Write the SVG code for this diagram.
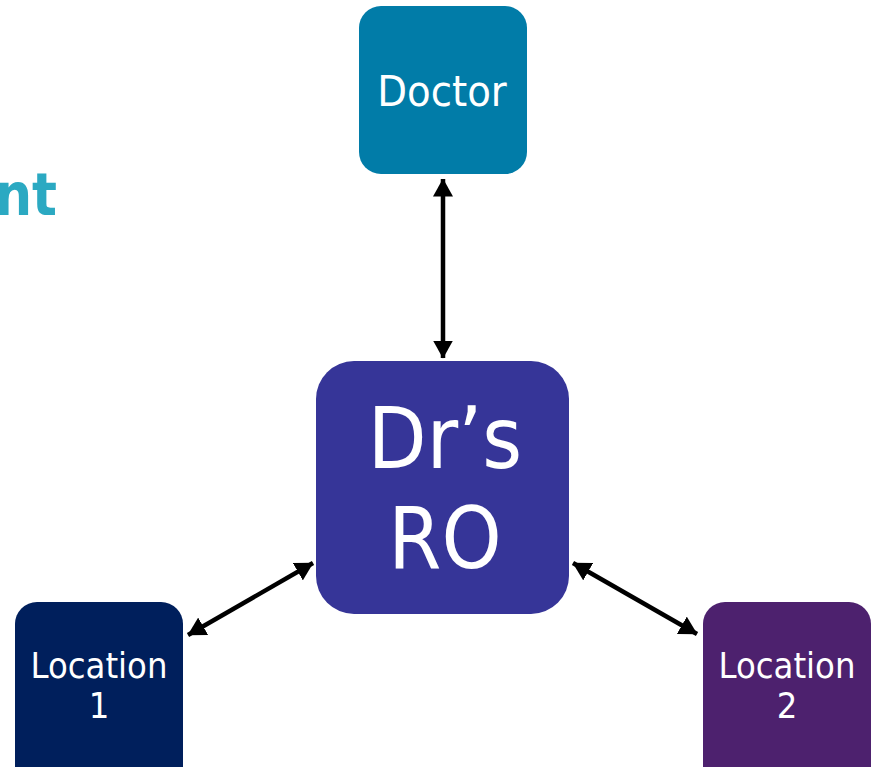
<svg xmlns="http://www.w3.org/2000/svg" width="876" height="767" viewBox="0 0 876 767">
<style>
.lbl{font-family:"DejaVu Sans Condensed","DejaVu Sans","Liberation Sans",sans-serif;fill:#fff;text-anchor:middle}
.conn{stroke:#000;stroke-width:4.5;fill:none}
</style>
<defs>
<marker id="ah" viewBox="0 0 18 20" refX="17.5" refY="10" markerWidth="18" markerHeight="20" markerUnits="userSpaceOnUse" orient="auto-start-reverse">
<path d="M0,0 L18,10 L0,20 Z" fill="#000"/>
</marker>
</defs>
<rect width="876" height="767" fill="#fff"/>
<text x="57" y="215" font-family="'DejaVu Sans Condensed','DejaVu Sans',sans-serif" font-weight="bold" font-size="58" fill="#2BA9C2" text-anchor="end">nt</text>
<g id="connectors">
<line class="conn" x1="443" y1="179" x2="443" y2="358" marker-start="url(#ah)" marker-end="url(#ah)"/>
<line class="conn" x1="188" y1="635" x2="313" y2="563" marker-start="url(#ah)" marker-end="url(#ah)"/>
<line class="conn" x1="573" y1="563" x2="697" y2="634" marker-start="url(#ah)" marker-end="url(#ah)"/>
</g>
<g id="doctor">
<rect x="359" y="6" width="168" height="168" rx="22" fill="#017CA8"/>
<text class="lbl" x="442" y="106" font-size="43">Doctor</text>
</g>
<g id="drs-ro">
<rect x="316" y="361" width="253" height="253" rx="38" fill="#363598"/>
<text class="lbl" x="445" y="468" font-size="85">Dr’s</text>
<text class="lbl" x="445" y="568" font-size="85">RO</text>
</g>
<g id="location1">
<rect x="15" y="602" width="168" height="190" rx="22" fill="#001F5C"/>
<text class="lbl" x="99" y="678" font-size="36">Location</text>
<text class="lbl" x="99" y="718" font-size="36">1</text>
</g>
<g id="location2">
<rect x="703" y="602" width="168" height="190" rx="22" fill="#4D216E"/>
<text class="lbl" x="787" y="678" font-size="36">Location</text>
<text class="lbl" x="787" y="718" font-size="36">2</text>
</g>
</svg>
